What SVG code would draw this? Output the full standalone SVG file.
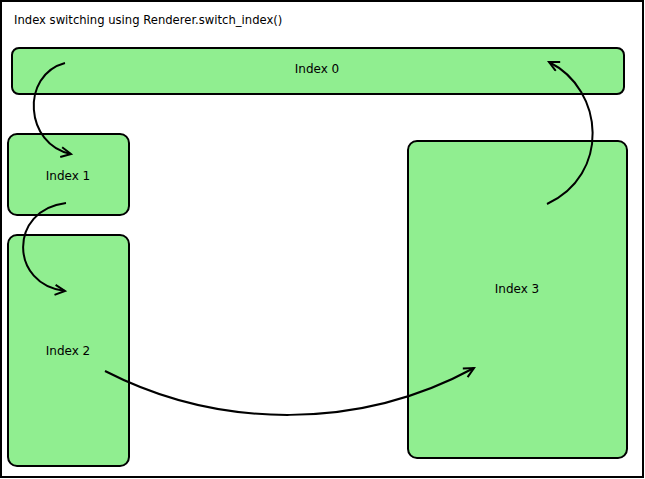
<svg xmlns="http://www.w3.org/2000/svg" width="645" height="479" viewBox="0 0 645 479">
<defs>
<style>
.box{fill:#90ee90;stroke:#000;stroke-width:2}
.lbl{font-family:"DejaVu Sans",sans-serif;font-size:12px;fill:#000}
.ttl{font-size:11.6px}
.arr{fill:none;stroke:#000;stroke-width:2;marker-end:url(#ah)}
</style>
<marker id="ah" markerWidth="14" markerHeight="14" refX="11" refY="6" orient="auto" markerUnits="userSpaceOnUse">
<path d="M1,1 L11,6 L1,11" fill="none" stroke="#000" stroke-width="2"/>
</marker>
</defs>
<rect x="1" y="1" width="642" height="476" fill="#fff" stroke="#000" stroke-width="2"/>
<text class="lbl ttl" x="14" y="24">Index switching using Renderer.switch_index()</text>
<g id="index0"><rect class="box" x="12" y="48" width="612" height="46" rx="7"/><text class="lbl" x="317" y="73" text-anchor="middle">Index 0</text></g>
<g id="index1"><rect class="box" x="8" y="134" width="121" height="81" rx="9"/><text class="lbl" x="68" y="180" text-anchor="middle">Index 1</text></g>
<g id="index2"><rect class="box" x="8" y="235" width="121" height="231" rx="9"/><text class="lbl" x="68" y="355" text-anchor="middle">Index 2</text></g>
<g id="index3"><rect class="box" x="408" y="141" width="219" height="317" rx="9"/><text class="lbl" x="517" y="293" text-anchor="middle">Index 3</text></g>
<g id="connectors">
<path class="arr" d="M65,63 C20,75 25,145 71,154"/>
<path class="arr" d="M66,203 C8,210 10,285 65,291"/>
<path class="arr" d="M105,371 C220,430 360,430 474,368"/>
<path class="arr" d="M547,204 C610,175 605,90 549,62"/>
</g>
</svg>
